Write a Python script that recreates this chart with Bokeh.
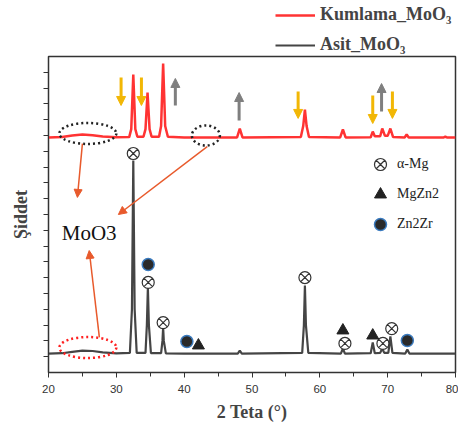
from bokeh.plotting import figure
from bokeh.layouts import column
from bokeh.models import (ColumnDataSource, Range1d, FixedTicker, Arrow, NormalHead,
                          Legend, LegendItem)
from bokeh.core.properties import value
from bokeh.embed import file_html
from bokeh.resources import INLINE

# ---- data ----
tt_kumlama = [20, 22, 23.5, 25, 26.5, 28, 30, 31.9, 32.2, 32.5, 32.8, 33.1, 34.0, 34.3, 34.6, 34.9, 35.2,
              36.3, 36.6, 36.9, 37.2, 37.6, 40, 43, 47.8, 48.2, 48.6, 57.2, 57.55, 57.8, 58.05, 58.4,
              63.0, 63.4, 63.8, 67.5, 67.8, 68.1, 68.9, 69.2, 69.6, 70.0, 70.4, 70.8, 72.5, 72.8, 73.1,
              78.2, 78.5, 78.8, 80]
i_kumlama = [1487, 1490, 1500, 1506, 1502, 1494, 1489, 1490, 1540, 1886, 1540, 1492, 1492, 1540, 1772, 1540, 1492,
             1492, 1560, 1956, 1560, 1492, 1488, 1487, 1488, 1544, 1488, 1490, 1560, 1664, 1560, 1490,
             1488, 1538, 1488, 1489, 1525, 1495, 1495, 1544, 1498, 1498, 1544, 1490, 1487, 1506, 1487,
             1487, 1493, 1487, 1487]

tt_asit = [20, 22, 23.5, 25, 26.5, 28, 30, 32.0, 32.3, 32.5, 32.7, 33.0, 34.3, 34.5, 34.65, 34.8, 35.1,
           36.6, 36.8, 36.9, 37.0, 37.3, 40, 42, 47.9, 48.2, 48.5, 57.4, 57.65, 57.8, 57.95, 58.3,
           63.1, 63.4, 63.7, 67.5, 67.8, 68.1, 68.9, 69.2, 69.5, 70.1, 70.4, 70.7, 72.6, 72.9, 73.2, 80]
i_asit = [120, 122, 130, 138, 136, 127, 121, 124, 400, 1342, 400, 124, 124, 300, 538, 300, 122,
          122, 200, 285, 200, 121, 120, 120, 120, 139, 120, 124, 300, 551, 300, 124,
          120, 152, 120, 122, 190, 122, 124, 152, 124, 124, 228, 124, 120, 146, 120, 120]

series_names = ["Kumlama_MoO\u2083", "Asit_MoO\u2083"]

# phase markers on the Asit pattern
amg_tt = [32.5, 34.7, 36.9, 57.8, 63.7, 69.3, 70.6]
amg_i = [1386, 570, 316, 601, 184, 184, 278]
mgzn2_tt = [42.1, 63.4, 67.8]
mgzn2_i = [171, 266, 234]
zn2zr_tt = [34.7, 40.4, 72.9]
zn2zr_i = [684, 196, 203]
phase_names = ["α-Mg", "MgZn2", "Zn2Zr"]

# arrows on the Kumlama pattern
down_tt = [30.7, 33.7, 56.8, 67.8, 70.7]
down_top = [1867, 1867, 1778, 1753, 1778]
down_bot = [1690, 1690, 1608, 1576, 1608]
up_tt = [38.7, 48.1, 69.1]
up_bot = [1690, 1595, 1652]
up_top = [1861, 1772, 1829]

# MoO3 call-outs
moo3_tt = [26.0]
moo3_i = [886]
call_x0 = [25.0, 43.4, 27.5]
call_y0 = [1449, 1430, 222]
call_x1 = [24.26, 30.3, 26.0]
call_y1 = [1108, 1000, 772]
ell_black_tt = [25.8, 43.2]
ell_black_i = [1513, 1500]
ell_red_tt = [25.8]
ell_red_i = [158]

x_ticks = [20, 30, 40, 50, 60, 70, 80]
x_minor = [25, 35, 45, 55, 65, 75]
y_ticks = list(range(100, 2000, 100))

SERIF = "Liberation Serif"
RED = "#ff3333"
DARK = "#454545"

# ---------------- main plot ----------------
p = figure(width=458, height=374, output_backend="svg", toolbar_location=None,
           x_range=Range1d(20, 80), y_range=Range1d(0, 2000),
           min_border_left=48, min_border_right=3, min_border_top=2, min_border_bottom=56)
p.background_fill_color = "white"
p.border_fill_color = "white"
p.grid.visible = False
p.outline_line_color = "#333333"
p.outline_line_width = 1.5

p.xaxis.ticker = FixedTicker(ticks=x_ticks, minor_ticks=x_minor)
p.xaxis.major_tick_out = 5
p.xaxis.major_tick_in = 0
p.xaxis.minor_tick_out = 4
p.xaxis.minor_tick_in = 0
p.xaxis.major_label_text_font = "Liberation Sans"
p.xaxis.major_label_text_font_size = "11.5px"
p.xaxis.major_label_text_color = "#333333"
p.xaxis.major_label_standoff = 7
p.xaxis.axis_label = "2 Teta (°)"
p.xaxis.axis_label_text_font = SERIF
p.xaxis.axis_label_text_font_style = "bold"
p.xaxis.axis_label_text_font_size = "18px"
p.xaxis.axis_label_standoff = 6
p.xaxis.axis_line_color = "#333333"
p.xaxis.major_tick_line_color = "#333333"
p.xaxis.minor_tick_line_color = "#333333"

p.yaxis.ticker = FixedTicker(ticks=y_ticks, minor_ticks=[])
p.yaxis.major_tick_out = 5
p.yaxis.major_tick_in = 0
p.yaxis.major_label_overrides = {t: "" for t in y_ticks}
p.yaxis.major_label_standoff = 0
p.yaxis.axis_label = "Şiddet"
p.yaxis.axis_label_text_font = SERIF
p.yaxis.axis_label_text_font_style = "bold"
p.yaxis.axis_label_text_font_size = "18px"
p.yaxis.axis_label_standoff = 13
p.yaxis.axis_line_color = "#333333"
p.yaxis.major_tick_line_color = "#333333"

r_kum = p.line(tt_kumlama, i_kumlama, line_color=RED, line_width=2.5)
r_asit = p.line(tt_asit, i_asit, line_color=DARK, line_width=2.2)

r_amg = p.scatter(amg_tt, amg_i, marker="circle_x", size=12, fill_color="white",
                  line_color="#333333", line_width=1.2)
r_mgzn2 = p.scatter(mgzn2_tt, mgzn2_i, marker="triangle", size=12, fill_color="#222222",
                    line_color="#222222")
r_zn2zr = p.scatter(zn2zr_tt, zn2zr_i, marker="circle", size=12, fill_color="#2a2a2a",
                    line_color="#3b7bbf", line_width=1.5)

down_src = ColumnDataSource(dict(x=down_tt, y0=down_top, y1=down_bot))
p.add_layout(Arrow(source=down_src, x_start="x", y_start="y0", x_end="x", y_end="y1",
                   line_color="#f2b705", line_width=3,
                   end=NormalHead(size=9, fill_color="#f2b705", line_color="#f2b705", line_width=1)))
up_src = ColumnDataSource(dict(x=up_tt, y0=up_bot, y1=up_top))
p.add_layout(Arrow(source=up_src, x_start="x", y_start="y0", x_end="x", y_end="y1",
                   line_color="#7f7f7f", line_width=3,
                   end=NormalHead(size=9, fill_color="#7f7f7f", line_color="#7f7f7f", line_width=1)))

p.ellipse(ell_black_tt, ell_black_i, width=[57, 28], height=[21, 20],
          width_units="screen", height_units="screen", fill_alpha=0,
          line_color="#222222", line_width=2.5, line_dash="2 3")
p.ellipse(ell_red_tt, ell_red_i, width=57, height=21,
          width_units="screen", height_units="screen", fill_alpha=0,
          line_color="#ff2020", line_width=2.5, line_dash="2 3")

call_src = ColumnDataSource(dict(x0=call_x0, y0=call_y0, x1=call_x1, y1=call_y1))
p.add_layout(Arrow(source=call_src, x_start="x0", y_start="y0", x_end="x1", y_end="y1",
                   line_color="#e85a2c", line_width=1.5,
                   end=NormalHead(size=8, fill_color="#e85a2c", line_color="#e85a2c", line_width=1)))

p.text(moo3_tt, moo3_i, text=["MoO3"], text_font=value(SERIF), text_font_size="21px",
       text_align="center", text_baseline="middle", text_color="#111111")

ph_leg = Legend(items=[LegendItem(label=phase_names[0], renderers=[r_amg]),
                       LegendItem(label=phase_names[1], renderers=[r_mgzn2]),
                       LegendItem(label=phase_names[2], renderers=[r_zn2zr])],
                location=(317, 133), orientation="vertical",
                label_text_font=SERIF, label_text_font_size="14px", label_text_color="#222222",
                glyph_width=30, glyph_height=30, label_height=20, label_standoff=2,
                spacing=-6, padding=0, margin=0, border_line_alpha=0, background_fill_alpha=0)
p.add_layout(ph_leg)

# ---------------- series legend strip above the plot ----------------
# The same two series are drawn here outside the visible y-range, only to feed the legend.
top = figure(width=458, height=54, output_backend="svg", toolbar_location=None,
             x_range=Range1d(20, 80), y_range=Range1d(-2, -1),
             min_border_left=0, min_border_right=0, min_border_top=0, min_border_bottom=0)
top.axis.visible = False
top.grid.visible = False
top.outline_line_color = None
top.background_fill_color = "white"
top.border_fill_color = "white"
k_leg = top.line(tt_kumlama, i_kumlama, line_color=RED, line_width=2.5)
a_leg = top.line(tt_asit, i_asit, line_color=DARK, line_width=2.2)
top_leg = Legend(items=[LegendItem(label=series_names[0], renderers=[k_leg]),
                        LegendItem(label=series_names[1], renderers=[a_leg])],
                 location=(227, -1), orientation="vertical",
                 label_text_font=SERIF, label_text_font_style="bold", label_text_font_size="18px",
                 glyph_width=40, glyph_height=20, label_height=20, label_standoff=5,
                 spacing=9, padding=0, margin=0, border_line_alpha=0, background_fill_alpha=0)
top.add_layout(top_leg)

layout = column(top, p, spacing=0)
open("out.html", "w").write(file_html(layout, INLINE))
